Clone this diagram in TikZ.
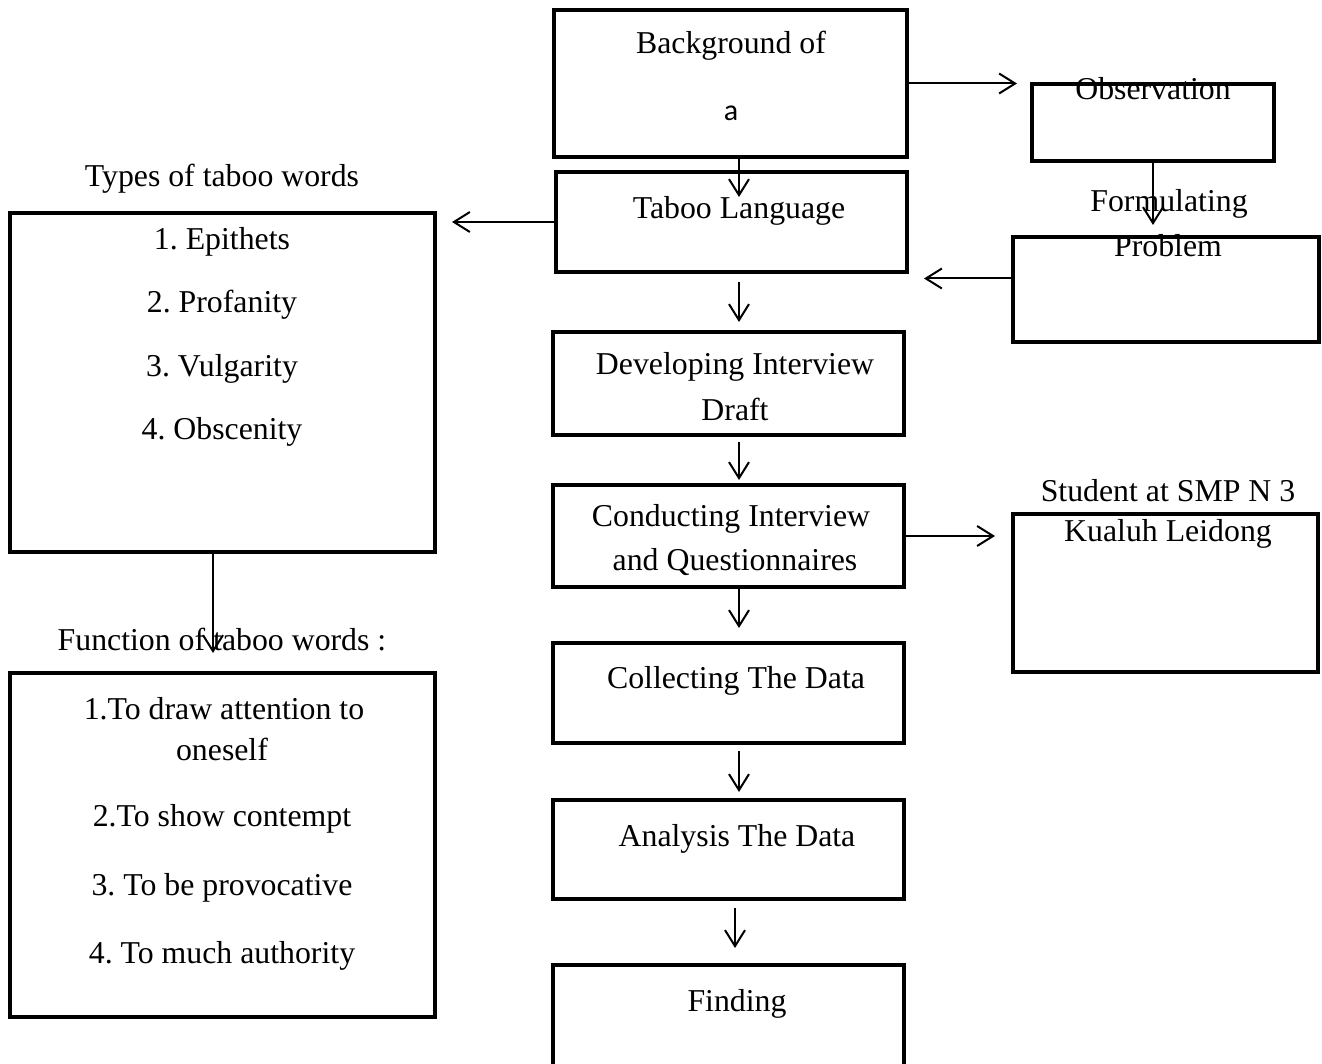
\documentclass[tikz,border=0pt]{standalone}
\usepackage{fontspec}
\setmainfont{Liberation Serif}
\newfontfamily\sansa{Carlito}
\usetikzlibrary{arrows.meta}
\frenchspacing
\begin{document}
\begin{tikzpicture}[x=0.5pt,y=-0.5pt,
  box/.style={draw, line width=2.4pt, inner sep=0pt, outer sep=0pt, anchor=north west},
  arr/.style={line width=1pt, -{Straight Barb[length=8pt,width=10pt,line width=1pt]}},
  txt/.style={font=\fontsize{15.9}{19}\selectfont, inner sep=0pt, yshift=-2pt}]
\useasboundingbox (0,0) rectangle (1322,1064);
\clip (0,0) rectangle (1322,1064);
\newcommand\pbox[5]{\node[box, minimum width={(#4-#2)*0.5pt}, minimum height={(#5-#3)*0.5pt}] (#1) at (#2,#3) {};}
% boxes
\pbox{bg}{554}{10}{907}{157}
\pbox{tab}{556}{172}{907}{272}
\pbox{obs}{1032}{84}{1274}{161}
\pbox{form}{1013}{237}{1319}{342}
\pbox{types}{10}{213}{435}{552}
\pbox{func}{10}{673}{435}{1017}
\pbox{dev}{553}{332}{904}{435}
\pbox{cond}{553}{485}{904}{587}
\pbox{stud}{1013}{514}{1318}{672}
\pbox{coll}{553}{643}{904}{743}
\pbox{anal}{553}{800}{904}{899}
\pbox{find}{553}{965}{904}{1067}
% texts
\node[txt] (t1) at (731,42) {Background of};
\node[txt, font=\sansa\fontsize{15}{18}\selectfont] (t2) at (731,109) {a};
\node[txt] (t3) at (739,207) {Taboo Language};
\node[txt] (t4) at (1153,85) {Observation};
\node[txt] (t5) at (1169,200) {Formulating};
\node[txt] (t6) at (1168,242) {Problem};
\node[txt] (t7) at (222,175) {Types of taboo words};
\node[txt] (t8) at (222,238) {1. Epithets};
\node[txt] (t9) at (222,301) {2. Profanity};
\node[txt] (t10) at (222,365) {3. Vulgarity};
\node[txt] (t11) at (222,428) {4. Obscenity};
\node[txt] (t12) at (222,636) {Function of taboo words :};
\node[txt] (t13) at (224,705) {1.To draw attention to};
\node[txt] (t14) at (222,745) {oneself};
\node[txt] (t15) at (222,815) {2.To show contempt};
\node[txt] (t16) at (222,884) {3. To be provocative};
\node[txt] (t17) at (222,952) {4. To much authority};
\node[txt] (t18) at (735,363) {Developing Interview};
\node[txt] (t19) at (735,405) {Draft};
\node[txt] (t20) at (731,515) {Conducting Interview};
\node[txt] (t21) at (735,558) {and Questionnaires};
\node[txt] (t22) at (1168,487) {Student at SMP N 3};
\node[txt] (t23) at (1168,530) {Kualuh Leidong};
\node[txt] (t24) at (736,677) {Collecting The Data};
\node[txt] (t25) at (737,835) {Analysis The Data};
\node[txt] (t26) at (737,1000) {Finding};
% connectors
\coordinate (ax) at (739,0);
\coordinate (ay) at (735,0);
\draw[arr, shorten >=7.5pt] (bg.east) -- (bg.east -| obs.west);
\draw[arr, shorten >=6pt] (obs.south) -- (obs.south |- form.north);
\draw[arr, shorten >=8.5pt] ([yshift=5.5pt]form.west) -- ([yshift=5.5pt]form.west -| tab.east);
\draw[arr, shorten >=8.5pt] (tab.west) -- (tab.west -| types.east);
\draw[arr, shorten >=10pt] ([xshift=-4.75pt]types.south) -- ([xshift=-4.75pt]types.south |- func.north);
\draw[arr, shorten >=9pt] (cond.east) -- (cond.east -| stud.west);
\draw[arr, shorten >=-12.5pt] (bg.south -| ax) -- (tab.north -| ax);
\draw[arr, shorten <=5pt, shorten >=5pt] (tab.south -| ax) -- (dev.north -| ax);
\draw[arr, shorten <=3.5pt, shorten >=2.5pt] (dev.south -| ax) -- (cond.north -| ax);
\draw[arr, shorten >=7.5pt] (cond.south -| ax) -- (coll.north -| ax);
\draw[arr, shorten <=4pt, shorten >=4pt] (coll.south -| ax) -- (anal.north -| ax);
\draw[arr, shorten <=4.5pt, shorten >=8.5pt] (anal.south -| ay) -- (find.north -| ay);
\end{tikzpicture}
\end{document}
